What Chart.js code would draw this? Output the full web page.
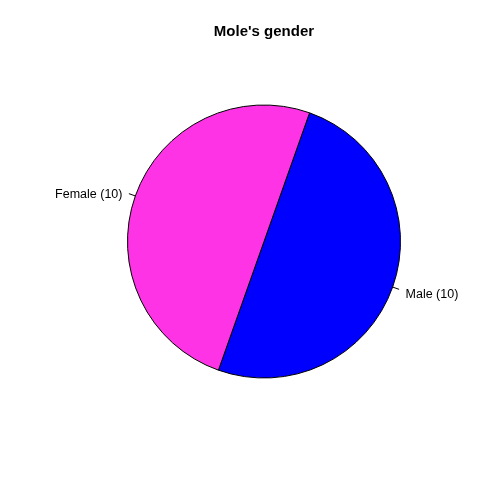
<!DOCTYPE html>
<html>
<head>
<meta charset="utf-8">
<script src="https://cdn.jsdelivr.net/npm/chart.js@4"></script>
<style>
html,body{margin:0;padding:0;background:#fff;}
#wrap{width:500px;height:500px;}
</style>
</head>
<body>
<div id="wrap"><canvas id="c" width="500" height="500"></canvas></div>
<script>
const title = "Mole's gender";
const categories = ["Male", "Female"];
const counts = [10, 10];
const colors = ["#0000FF", "#FF33E6"];

const labelPlugin = {
  id: 'rlabels',
  afterDraw(chart) {
    const ctx = chart.ctx;
    ctx.save();
    ctx.fillStyle = '#000';
    ctx.font = 'bold 15px "Liberation Sans", Arial, sans-serif';
    ctx.textAlign = 'center';
    ctx.textBaseline = 'middle';
    ctx.fillText(title, 264, 32);
    const meta = chart.getDatasetMeta(0);
    ctx.font = '12.5px "Liberation Sans", Arial, sans-serif';
    ctx.strokeStyle = '#000';
    ctx.lineWidth = 1;
    meta.data.forEach((arc, i) => {
      const p = arc.getProps(['x','y','startAngle','endAngle','outerRadius'], true);
      const mid = (p.startAngle + p.endAngle) / 2;
      const c = Math.cos(mid), s = Math.sin(mid);
      const r = p.outerRadius;
      ctx.beginPath();
      ctx.moveTo(p.x + c * r, p.y + s * r);
      ctx.lineTo(p.x + c * r * 1.05, p.y + s * r * 1.05);
      ctx.stroke();
      ctx.textAlign = c >= 0 ? 'left' : 'right';
      ctx.textBaseline = 'middle';
      ctx.fillText(categories[i] + ' (' + counts[i] + ')', p.x + c * r * 1.1, p.y + s * r * 1.1 + 3);
    });
    ctx.restore();
  }
};

new Chart(document.getElementById('c'), {
  type: 'pie',
  data: {
    labels: categories,
    datasets: [{
      data: counts,
      backgroundColor: colors,
      borderColor: '#000',
      borderWidth: 1,
      hoverOffset: 0
    }]
  },
  options: {
    responsive: false,
    animation: false,
    rotation: 19.5,
    layout: { padding: { left: 127, top: 104, right: 99, bottom: 121 } },
    plugins: { legend: { display: false }, tooltip: { enabled: false }, title: { display: false } },
    events: []
  },
  plugins: [labelPlugin]
});
</script>
</body>
</html>
